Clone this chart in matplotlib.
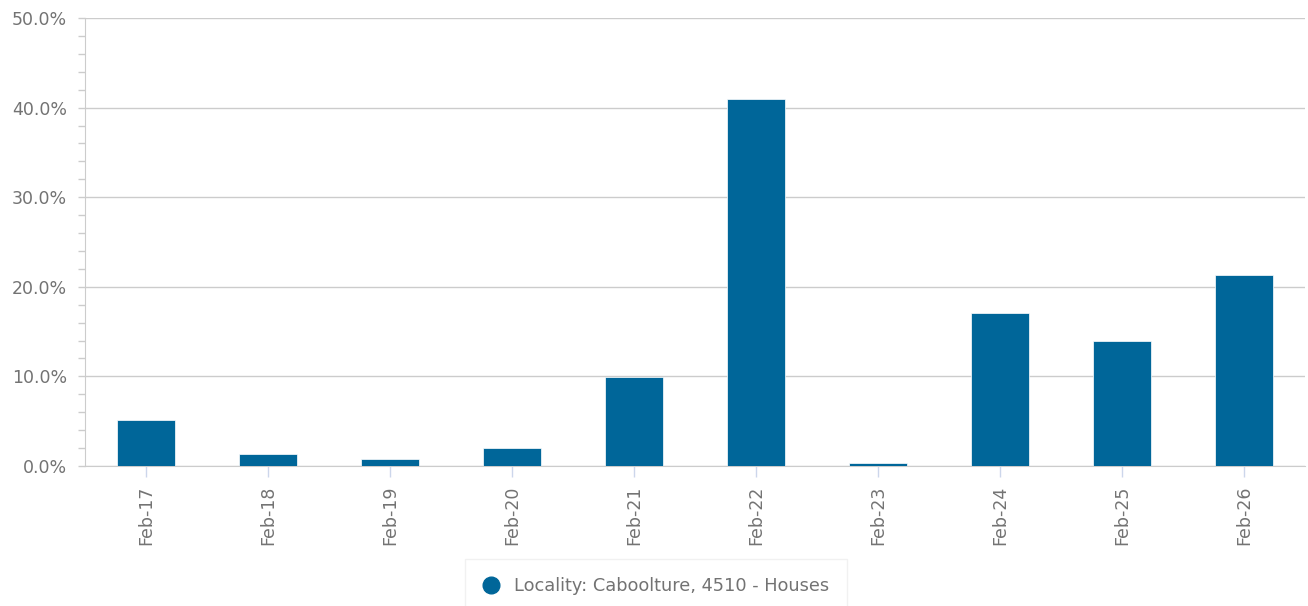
import matplotlib
matplotlib.use("Agg")

import matplotlib.pyplot as plt
from matplotlib.ticker import MultipleLocator, FuncFormatter
from matplotlib.lines import Line2D

# ---- Data ----
periods = ["Feb-17", "Feb-18", "Feb-19", "Feb-20", "Feb-21",
           "Feb-22", "Feb-23", "Feb-24", "Feb-25", "Feb-26"]
growth_pct = [5.15, 1.35, 0.8, 2.0, 9.95, 41.0, 0.3, 17.1, 13.95, 21.35]
series_label = "Locality: Caboolture, 4510 - Houses"

BAR_COLOR = "#006699"
TEXT_COLOR = "#737373"
GRID_COLOR = "#cccccc"

W, H = 1308, 606
fig = plt.figure(figsize=(W / 100, H / 100), dpi=100)
ax = fig.add_axes([85 / W, (H - 466) / H, (1305 - 85) / W, (466 - 18) / H])

x = list(range(len(periods)))
ax.bar(x, growth_pct, width=0.47, color=BAR_COLOR, edgecolor="white",
       linewidth=0.5, zorder=3)

ax.set_xlim(-0.5, len(periods) - 0.5)
ax.set_ylim(0, 50)

# ---- Y axis ----
ax.yaxis.set_major_locator(MultipleLocator(10))
ax.yaxis.set_minor_locator(MultipleLocator(2))
ax.yaxis.set_major_formatter(FuncFormatter(lambda v, p: f"{v:.1f}%"))
ax.tick_params(axis="y", which="major", length=5, width=1, color=GRID_COLOR,
               labelcolor=TEXT_COLOR, labelsize=12.5, pad=8)
ax.tick_params(axis="y", which="minor", length=5, width=1, color=GRID_COLOR)
ax.grid(axis="y", which="major", color=GRID_COLOR, linewidth=1, zorder=0)

# ---- X axis ----
ax.set_xticks(x)
ax.set_xticklabels(periods, rotation=90)
ax.tick_params(axis="x", length=8, width=1, color="#ccd6eb",
               labelcolor=TEXT_COLOR, labelsize=12.5, pad=6)

for side in ["top", "right"]:
    ax.spines[side].set_visible(False)
ax.spines["left"].set_color(GRID_COLOR)
ax.spines["bottom"].set_color(GRID_COLOR)

# ---- Legend ----
handle = Line2D([], [], marker="o", linestyle="none", markersize=12,
                markerfacecolor=BAR_COLOR, markeredgecolor=BAR_COLOR)
leg = fig.legend([handle], [series_label], loc="center",
                 bbox_to_anchor=(656 / W, (H - 586) / H), frameon=True,
                 fontsize=12.8, labelcolor=TEXT_COLOR, handletextpad=0.8,
                 handlelength=1.0, borderpad=1.0, borderaxespad=0,
                 fancybox=False)
leg.get_frame().set_edgecolor("#eeeeee")
leg.get_frame().set_linewidth(1)

fig.savefig("out.png", dpi=100)
plt.close(fig)
